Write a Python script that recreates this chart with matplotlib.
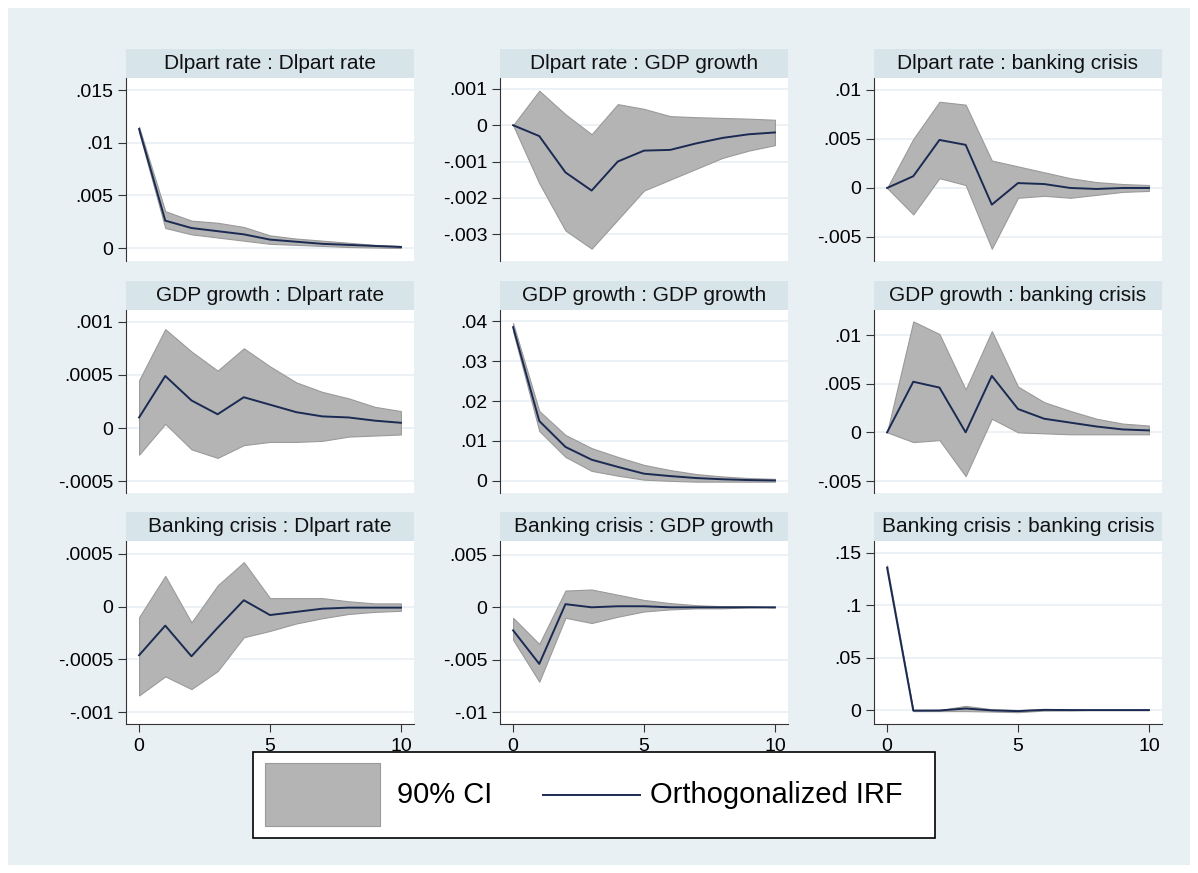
import matplotlib.pyplot as plt
from matplotlib.patches import Rectangle
from matplotlib.lines import Line2D

plt.rcParams['font.family'] = ['Liberation Sans', 'DejaVu Sans']

steps = list(range(11))

titles = [
    ["Dlpart rate : Dlpart rate", "Dlpart rate : GDP growth", "Dlpart rate : banking crisis"],
    ["GDP growth : Dlpart rate", "GDP growth : GDP growth", "GDP growth : banking crisis"],
    ["Banking crisis : Dlpart rate", "Banking crisis : GDP growth", "Banking crisis : banking crisis"],
]

irf = [
    [[.0113, .0026, .0019, .0016, .0013, .0008, .0006, .0004, .0003, .0002, .0001],
     [0, -.0003, -.0013, -.0018, -.001, -.0007, -.00068, -.0005, -.00035, -.00025, -.0002],
     [0, .0012, .0049, .0044, -.0017, .0005, .0004, 0, -.0001, 0, 0]],
    [[.0001, .00049, .00026, .00013, .00029, .00022, .00015, .00011, .0001, .00007, .00005],
     [.0385, .015, .0085, .0053, .0035, .0018, .0012, .0007, .0004, .0002, .0001],
     [0, .0052, .0046, 0, .0058, .0024, .0014, .001, .0006, .0003, .0002]],
    [[-.00046, -.00018, -.00047, -.0002, .00006, -.00008, -.00005, -.00002, -.00001, -.00001, -.00001],
     [-.0022, -.0054, .0003, 0, .0001, .0001, 0, 0, 0, 0, 0],
     [.136, -.0005, -.0004, .0015, -.0003, -.001, .0002, 0, 0, 0, 0]],
]
upper = [
    [[.0115, .0035, .0026, .0024, .0020, .0012, .0009, .0007, .0005, .0003, .0002],
     [0, .00095, .0003, -.00025, .00058, .00045, .00025, .00022, .0002, .00018, .00015],
     [0, .005, .0088, .0085, .0028, .0022, .0016, .001, .0006, .0004, .0003]],
    [[.00045, .00093, .00072, .00054, .00075, .00058, .00043, .00034, .00028, .0002, .00016],
     [.0395, .0175, .0115, .0082, .006, .004, .0027, .0017, .0011, .0007, .0005],
     [0, .0114, .0101, .0044, .0104, .0047, .0031, .0022, .0014, .0009, .0007]],
    [[-.0001, .00029, -.00015, .0002, .00042, .00008, .00008, .00008, .00005, .00003, .00003],
     [-.001, -.0035, .0016, .0017, .0012, .0007, .0004, .0002, .0001, .0001, 0],
     [.138, 0, 0, .004, .0008, 0, .0008, .0004, 0, 0, 0]],
]
lower = [
    [[.0110, .0019, .0013, .0010, .0007, .0004, .0003, .0002, .0001, .00005, 0],
     [0, -.0016, -.0029, -.0034, -.0026, -.0018, -.0015, -.0012, -.0009, -.0007, -.00055],
     [0, -.0027, .001, .0003, -.0062, -.001, -.0008, -.001, -.0007, -.0004, -.0003]],
    [[-.00025, .00004, -.0002, -.00028, -.00016, -.00013, -.00013, -.00012, -.00008, -.00007, -.00006],
     [.0375, .0125, .006, .0025, .0013, .0003, 0, -.0002, -.0002, -.0002, -.0002],
     [0, -.001, -.0008, -.0045, .0014, 0, -.0001, -.0002, -.0002, -.0002, -.0002]],
    [[-.00084, -.00066, -.00078, -.00061, -.00029, -.00023, -.00016, -.00011, -.00007, -.00005, -.00004],
     [-.0031, -.0071, -.001, -.0015, -.0009, -.0004, -.0002, -.0001, -.0001, 0, 0],
     [.134, -.001, -.001, -.001, -.0014, -.002, -.0005, -.0004, 0, 0, 0]],
]

yticks = [
    [[0, .005, .01, .015], [-.003, -.002, -.001, 0, .001], [-.005, 0, .005, .01]],
    [[-.0005, 0, .0005, .001], [0, .01, .02, .03, .04], [-.005, 0, .005, .01]],
    [[-.001, -.0005, 0, .0005], [-.01, -.005, 0, .005], [0, .05, .1, .15]],
]
yticklabels = [
    [["0", ".005", ".01", ".015"], ["-.003", "-.002", "-.001", "0", ".001"], ["-.005", "0", ".005", ".01"]],
    [["-.0005", "0", ".0005", ".001"], ["0", ".01", ".02", ".03", ".04"], ["-.005", "0", ".005", ".01"]],
    [["-.001", "-.0005", "0", ".0005"], ["-.01", "-.005", "0", ".005"], ["0", ".05", ".1", ".15"]],
]
ylims = [
    [(-.00123, .01614), (-.00374, .0013), (-.00745, .01122)],
    [(-.00061, .00111), (-.00304, .0428), (-.00623, .01257)],
    [(-.00111, .00062), (-.01114, .00633), (-.0133, .1614)],
]

W, H = 1198, 873
BG = '#e9f0f3'
HEAD = '#d7e4ea'
BAND = '#b4b4b4'
NAVY = '#1a2a52'

fig = plt.figure(figsize=(W / 100, H / 100), dpi=100)
fig.patch.set_facecolor('white')
fig.patches.append(Rectangle((8 / W, 8 / H), 1 - 16 / W, 1 - 16 / H, transform=fig.transFigure,
                             facecolor=BG, edgecolor='none', zorder=-10))

col_left = [126, 500, 874]
col_w = 288
row_top = [78, 310, 541]
row_h = 183
head_h = 29

for r in range(3):
    for c in range(3):
        x0 = col_left[c] / W
        y0 = 1 - (row_top[r] + row_h) / H
        ax = fig.add_axes([x0, y0, col_w / W, row_h / H])
        ax.set_facecolor('white')
        ax.fill_between(steps, lower[r][c], upper[r][c], color=BAND, edgecolor='#9a9a9a', lw=0.8, zorder=2)
        ax.plot(steps, irf[r][c], color=NAVY, lw=1.4, zorder=3)
        ax.set_xlim(-0.5, 10.5)
        ax.set_ylim(*ylims[r][c])
        ax.set_yticks(yticks[r][c])
        ax.set_yticklabels(yticklabels[r][c])
        ax.grid(axis='y', color='#e8eff2', lw=1.2, zorder=0)
        for s in ['top', 'right']:
            ax.spines[s].set_visible(False)
        ax.spines['left'].set_color('#333333')
        ax.tick_params(axis='y', labelsize=14, length=6, color='#333333', pad=3)
        if r == 2:
            ax.set_xticks([0, 5, 10])
            ax.spines['bottom'].set_color('#333333')
            ax.tick_params(axis='x', labelsize=14, length=6, color='#333333', pad=4)
        else:
            ax.spines['bottom'].set_visible(False)
            ax.set_xticks([])
        # header strip
        hy = 1 - row_top[r] / H
        fig.patches.append(Rectangle((x0, hy), col_w / W, head_h / H, transform=fig.transFigure,
                                     facecolor=HEAD, edgecolor='none'))
        fig.text(x0 + col_w / W / 2, hy + head_h / H / 2, titles[r][c], ha='center', va='center',
                 fontsize=15, color='#111111')

# legend
fig.patches.append(Rectangle((253 / W, 1 - 838 / H), 682 / W, 86 / H, transform=fig.transFigure,
                             facecolor='white', edgecolor='black', lw=1.2))
fig.patches.append(Rectangle((265 / W, 1 - 826 / H), 115 / W, 63 / H, transform=fig.transFigure,
                             facecolor=BAND, edgecolor='#9a9a9a', lw=0.8))
fig.text(445 / W, 1 - 795 / H, "90% CI", ha='center', va='center', fontsize=21)
fig.lines.append(Line2D([543 / W, 640 / W], [1 - 795 / H, 1 - 795 / H], transform=fig.transFigure,
                        color=NAVY, lw=1.4))
fig.text(650 / W, 1 - 795 / H, "Orthogonalized IRF", ha='left', va='center', fontsize=21)

fig.savefig('out.png', dpi=100)
